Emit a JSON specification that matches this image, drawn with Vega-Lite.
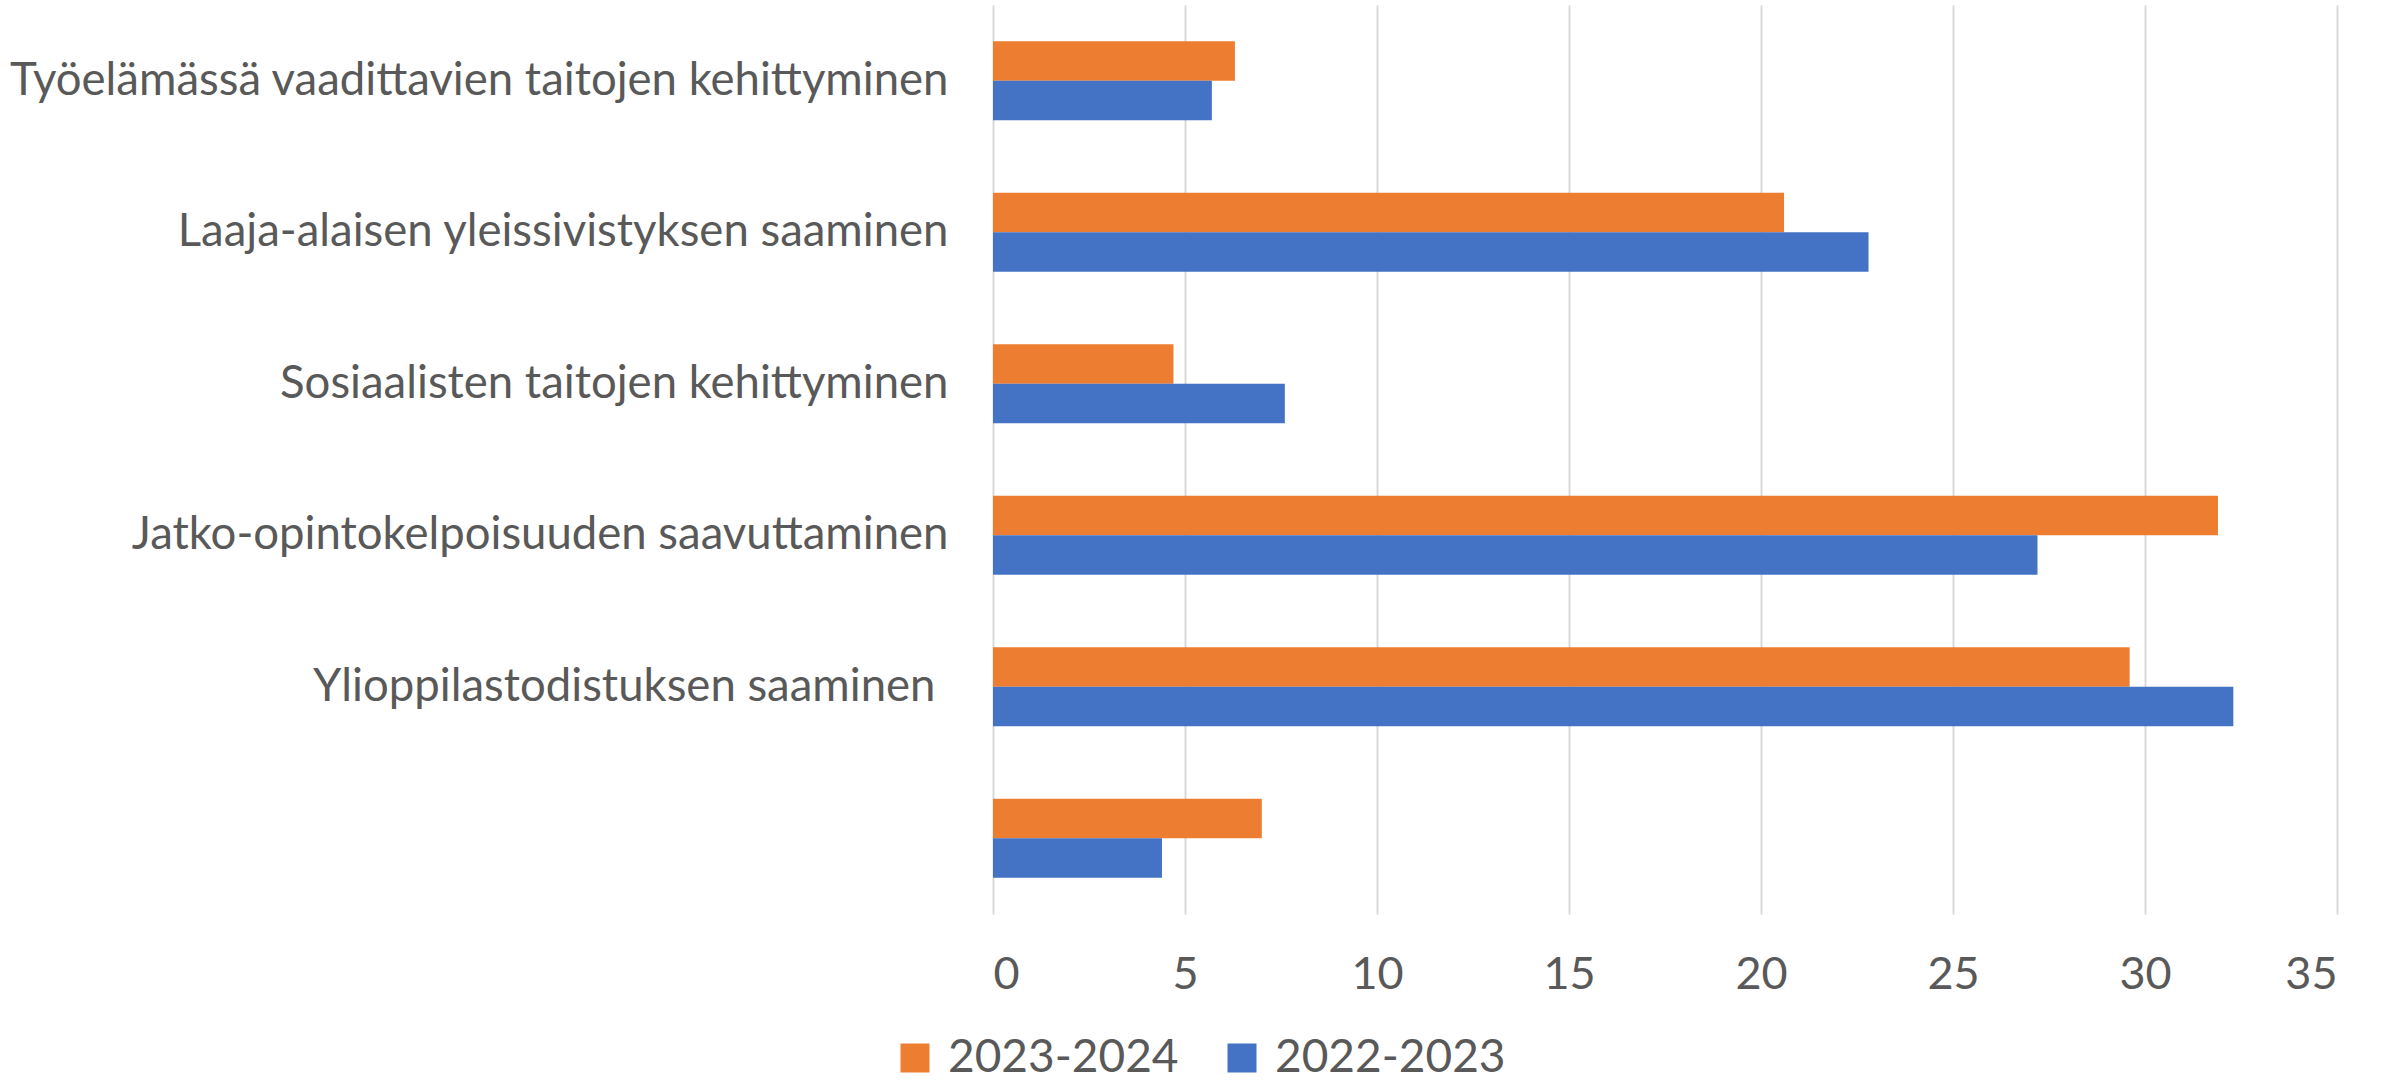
{
  "$schema": "https://vega.github.io/schema/vega-lite/v6.json",
  "width": 1344,
  "height": 909,
  "autosize": {"type": "none"},
  "padding": {"left": 993, "top": 5, "right": 52, "bottom": 167},
  "background": "white",
  "config": {
    "view": {"stroke": null},
    "font": "Lato",
    "axis": {"labelFont": "Lato", "labelColor": "#595959"},
    "legend": {"labelFont": "Lato", "labelColor": "#595959"}
  },
  "data": {
    "values": [
      {"category": "Työelämässä vaadittavien taitojen kehittyminen", "series": "2023-2024", "value": 6.3},
      {"category": "Työelämässä vaadittavien taitojen kehittyminen", "series": "2022-2023", "value": 5.7},
      {"category": "Laaja-alaisen yleissivistyksen saaminen", "series": "2023-2024", "value": 20.6},
      {"category": "Laaja-alaisen yleissivistyksen saaminen", "series": "2022-2023", "value": 22.8},
      {"category": "Sosiaalisten taitojen kehittyminen", "series": "2023-2024", "value": 4.7},
      {"category": "Sosiaalisten taitojen kehittyminen", "series": "2022-2023", "value": 7.6},
      {"category": "Jatko-opintokelpoisuuden saavuttaminen", "series": "2023-2024", "value": 31.9},
      {"category": "Jatko-opintokelpoisuuden saavuttaminen", "series": "2022-2023", "value": 27.2},
      {"category": "Ylioppilastodistuksen saaminen ", "series": "2023-2024", "value": 29.6},
      {"category": "Ylioppilastodistuksen saaminen ", "series": "2022-2023", "value": 32.3},
      {"category": "", "series": "2023-2024", "value": 7.0},
      {"category": "", "series": "2022-2023", "value": 4.4}
    ]
  },
  "mark": {"type": "bar"},
  "encoding": {
    "y": {
      "field": "category",
      "type": "nominal",
      "sort": [
        "Työelämässä vaadittavien taitojen kehittyminen",
        "Laaja-alaisen yleissivistyksen saaminen",
        "Sosiaalisten taitojen kehittyminen",
        "Jatko-opintokelpoisuuden saavuttaminen",
        "Ylioppilastodistuksen saaminen ",
        ""
      ],
      "scale": {"paddingInner": 0.48, "paddingOuter": 0.24},
      "axis": {
        "title": null,
        "ticks": false,
        "domain": false,
        "labelFontSize": 45.5,
        "labelPadding": {
          "condition": {"test": "indexof(datum.value, 'Ylioppilas') === 0", "value": 58},
          "value": 45
        },
        "labelLimit": 1200
      }
    },
    "yOffset": {
      "field": "series",
      "type": "nominal",
      "sort": ["2023-2024", "2022-2023"]
    },
    "x": {
      "field": "value",
      "type": "quantitative",
      "scale": {"domain": [0, 35]},
      "axis": {
        "title": null,
        "values": [0, 5, 10, 15, 20, 25, 30, 35],
        "ticks": false,
        "tickSize": 0,
        "domain": false,
        "grid": true,
        "gridColor": "#D9D9D9",
        "gridWidth": 2,
        "labelFontSize": 45,
        "labelPadding": 38
      }
    },
    "color": {
      "field": "series",
      "type": "nominal",
      "sort": ["2023-2024", "2022-2023"],
      "scale": {"domain": ["2023-2024", "2022-2023"], "range": ["#ED7D31", "#4472C4"]},
      "legend": {
        "title": null,
        "orient": "none",
        "direction": "horizontal",
        "legendX": -101,
        "legendY": 1030,
        "symbolType": "square",
        "symbolSize": 841,
        "symbolStrokeWidth": 0,
        "labelFontSize": 46,
        "labelLimit": 600,
        "labelOffset": 10,
        "columnPadding": 40
      }
    }
  }
}
